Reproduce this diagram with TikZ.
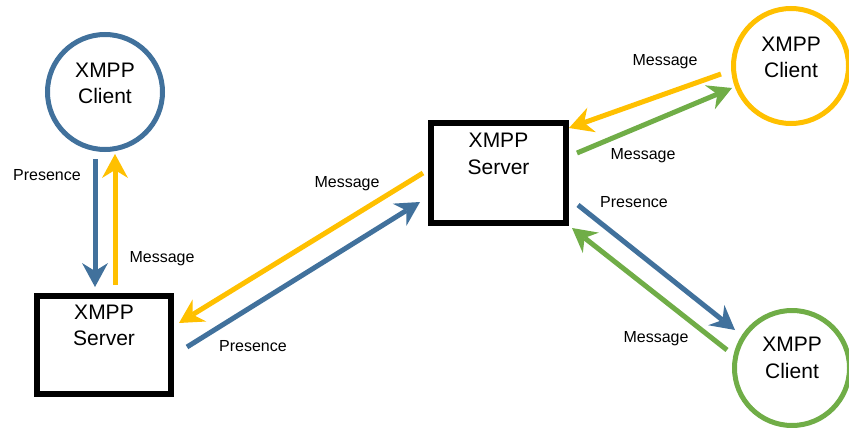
\documentclass[tikz,border=0pt]{standalone}
\usepackage{fontspec}
\setmainfont{Liberation Sans}
\usetikzlibrary{arrows.meta,calc}

\definecolor{xblue}{HTML}{41719C}
\definecolor{xyellow}{HTML}{FFC000}
\definecolor{xgreen}{HTML}{70AD47}

\tikzset{
  client/.style={circle, draw=#1, line width=5pt, minimum size=115pt, inner sep=0pt},
  server/.style={rectangle, draw=black, line width=6pt, minimum width=135pt, minimum height=99pt, inner sep=0pt},
  nodetext/.style={font=\fontsize{21}{26.5}\selectfont, align=center, inner sep=0pt},
  headtip/.tip={Stealth[length=24pt 0, width=26pt 0, inset=8pt 0, line width=0pt]},
  flow/.style={draw=#1, line width=5pt, -headtip},
  lbl/.style={font=\fontsize{16}{18}\selectfont, inner sep=0pt, text height=11.5pt, text depth=0pt}
}

\begin{document}
\begin{tikzpicture}[x=1pt, y=-1pt]
  \useasboundingbox (0,0) rectangle (849,428);

  % clients and servers
  \node[client=xblue, label={[nodetext, yshift=8.5pt]center:XMPP\\Client}] (c1) at (105,92) {};
  \node[client=xyellow, label={[nodetext, yshift=8.5pt]center:XMPP\\Client}] (c2) at (791,66) {};
  \node[client=xgreen, label={[nodetext, yshift=10pt]center:XMPP\\Client}] (c3) at (792,368) {};
  \node[server, minimum width=134pt, minimum height=98pt, label={[nodetext, yshift=19.5pt]center:XMPP\\Server}] (s1) at (104,345) {};
  \node[server, minimum height=100pt, label={[nodetext, yshift=19pt]center:XMPP\\Server}] (s2) at (498.5,173) {};

  % left client <-> left server
  \draw[flow=xblue] ($(c1.south)+(-10,7)$) -- ($(s1.north)+(-9,-6)$);
  \draw[flow=xyellow] ($(s1.north)+(11,-8)$) -- ($(c1.south)+(10,2)$);

  % left server <-> middle server
  \draw[flow=xyellow] ($(s2.west)+(-5,0)$) -- ($(s1.east)+(5,-22)$);
  \draw[flow=xblue] ($(s1.east)+(13,2)$) -- ($(s2.west)+(-8,29)$);

  % middle server <-> top right client
  \draw[flow=xyellow] ($(c2.west)+(-10,8)$) -- ($(s2.north east)+(0,8)$);
  \draw[flow=xgreen] ($(s2.east)+(8,-20)$) -- ($(c2.west)+(1,22)$);

  % middle server <-> bottom right client
  \draw[flow=xblue] ($(s2.east)+(9,32)$) -- ($(c3.west)+(3,-38)$);
  \draw[flow=xgreen] ($(c3.west)+(-5,-18)$) -- ($(s2.south east)+(3,2)$);

  % connector labels
  \node[lbl] (l1) at (47,175) {Presence};
  \node[lbl] (l2) at (162,257) {Message};
  \node[lbl] (l3) at (347,182) {Message};
  \node[lbl] (l4) at (253,346) {Presence};
  \node[lbl] (l5) at (665,60) {Message};
  \node[lbl] (l6) at (643,154) {Message};
  \node[lbl] (l7) at (634,202) {Presence};
  \node[lbl] (l8) at (656,337) {Message};
\end{tikzpicture}
\end{document}
